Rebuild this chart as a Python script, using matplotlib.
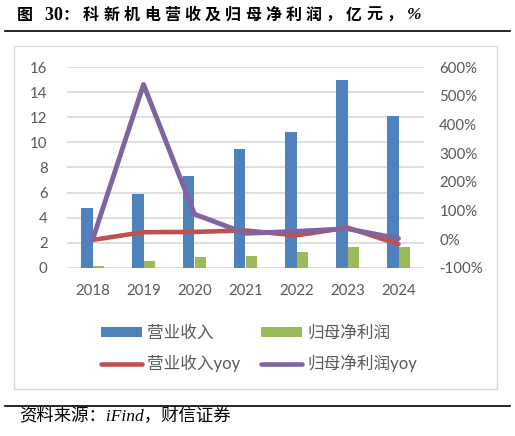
import matplotlib
matplotlib.use('Agg')
import matplotlib.pyplot as plt
from matplotlib.patches import Rectangle, Patch
from matplotlib.lines import Line2D
from matplotlib.ticker import FuncFormatter

# ---------------- data ----------------
years = ['2018', '2019', '2020', '2021', '2022', '2023', '2024']
revenue = [4.8, 5.9, 7.3, 9.45, 10.8, 14.95, 12.1]          # 亿元
net_profit = [0.1, 0.5, 0.82, 0.95, 1.22, 1.68, 1.68]       # 亿元
revenue_yoy = [-3, 24, 25, 30, 13, 40, -18]                 # %
profit_yoy = [-3, 540, 87, 20, 27, 36, 2]                   # %
left_ticks = [0, 2, 4, 6, 8, 10, 12, 14, 16]
right_ticks = [-100, 0, 100, 200, 300, 400, 500, 600]
series_labels = ['营业收入', '归母净利润', '营业收入yoy', '归母净利润yoy']
title = '图 30：科新机电营收及归母净利润，亿元，%'
source = '资料来源：iFind，财信证券'

# ---------------- style ----------------
C_BLUE = '#4F81BD'
C_GREEN = '#9BBB59'
C_RED = '#C0504D'
C_PURPLE = '#8064A2'
C_TEXT = '#595959'
C_GRID = '#D9D9D9'
LAT = ['Lato', 'Noto Sans CJK SC', 'DejaVu Sans']
CJK = ['Noto Sans CJK SC', 'DejaVu Sans']

W, H = 515, 436
fig = plt.figure(figsize=(W / 100, H / 100), dpi=100)
fig.patch.set_facecolor('white')


def fx(x):
    return x / W


def fy(y):
    return 1 - y / H


# chart frame
fig.patches.append(Rectangle((fx(14), fy(389)), fx(497) - fx(14), (389 - 46.5) / H,
                             transform=fig.transFigure, fill=False,
                             edgecolor=C_GRID, linewidth=1.0))
# rules
fig.add_artist(Line2D([fx(5), fx(510)], [fy(31.5), fy(31.5)], color='black', lw=1.2,
                      transform=fig.transFigure))
fig.add_artist(Line2D([fx(5), fx(510)], [fy(406), fy(406)], color='black', lw=1.2,
                      transform=fig.transFigure))

# title (characters spread as in reference)
x = 17
for i, ch in enumerate(title):
    if ch == ' ':
        x += 7
        continue
    if ch.isdigit():
        fig.text(fx(x), fy(15), ch, family=['Liberation Serif'], weight='bold',
                 fontsize=13, ha='left', va='center', color='black')
        x += 9
        continue
    if ch == '%':
        fig.text(fx(x), fy(15), ch, family=['Liberation Serif'], weight='bold',
                 fontsize=12.5, ha='left', va='center', color='black', style='italic')
        x += 12
        continue
    fig.text(fx(x), fy(15), ch, family=CJK, weight='bold', fontsize=11.5,
             ha='left', va='center', color='black')
    x += 20.2 if ch not in '：' else 21

# source
fig.text(fx(19), fy(416), source, family=['Liberation Serif', 'Noto Sans CJK SC'],
         fontsize=12.5, ha='left', va='center', color='black', style='italic')

# ---------------- axes ----------------
ax = fig.add_axes([fx(67), fy(267.7), fx(424) - fx(67), (267.7 - 67.3) / H])
xs = list(range(len(years)))
bw = 0.235
ax.bar([i - bw / 2 for i in xs], revenue, width=bw, color=C_BLUE, zorder=2)
ax.bar([i + bw / 2 for i in xs], net_profit, width=bw, color=C_GREEN, zorder=2)
ax.set_xlim(-0.5, len(years) - 0.5)
ax.set_ylim(0, 16)
ax.set_yticks(left_ticks)
ax.set_xticks(xs)
ax.set_xticklabels(years)
ax.grid(axis='y', color=C_GRID, linewidth=1.2)
ax.set_axisbelow(True)
for s in ax.spines.values():
    s.set_visible(False)
ax.tick_params(axis='both', length=0, labelcolor=C_TEXT, labelsize=10.8)
ax.tick_params(axis='y', pad=14)
ax.tick_params(axis='x', pad=12)
for lab in ax.get_xticklabels() + ax.get_yticklabels():
    lab.set_family(LAT)

ax2 = ax.twinx()
ax2.plot(xs, revenue_yoy, color=C_RED, lw=3.3, solid_capstyle='round',
         solid_joinstyle='round', zorder=3)
ax2.plot(xs, profit_yoy, color=C_PURPLE, lw=3.5, solid_capstyle='round',
         solid_joinstyle='round', zorder=4)
ax2.set_ylim(-100, 600)
ax2.set_yticks(right_ticks)
ax2.yaxis.set_major_formatter(FuncFormatter(lambda v, p: f'{v:.0f}%'))
for s in ax2.spines.values():
    s.set_visible(False)
ax2.tick_params(axis='y', length=0, labelcolor=C_TEXT, labelsize=10.8, pad=11)
for lab in ax2.get_yticklabels():
    lab.set_family(LAT)

# ---------------- legend ----------------
handles = [Patch(facecolor=C_BLUE, edgecolor='none'),
           Line2D([], [], color=C_RED, lw=3.3, solid_capstyle='round'),
           Patch(facecolor=C_GREEN, edgecolor='none'),
           Line2D([], [], color=C_PURPLE, lw=3.3, solid_capstyle='round')]
labels = [series_labels[0], series_labels[2], series_labels[1], series_labels[3]]
leg = fig.legend(handles, labels, loc='center', bbox_to_anchor=(fx(259), fy(348.5)),
                 ncol=2, frameon=False, prop=dict(family=LAT, size=12),
                 handlelength=2.5, handleheight=0.55, handletextpad=0.3,
                 columnspacing=1.2, labelspacing=0.85, labelcolor=C_TEXT)

fig.savefig('out.png', dpi=100, facecolor='white')
